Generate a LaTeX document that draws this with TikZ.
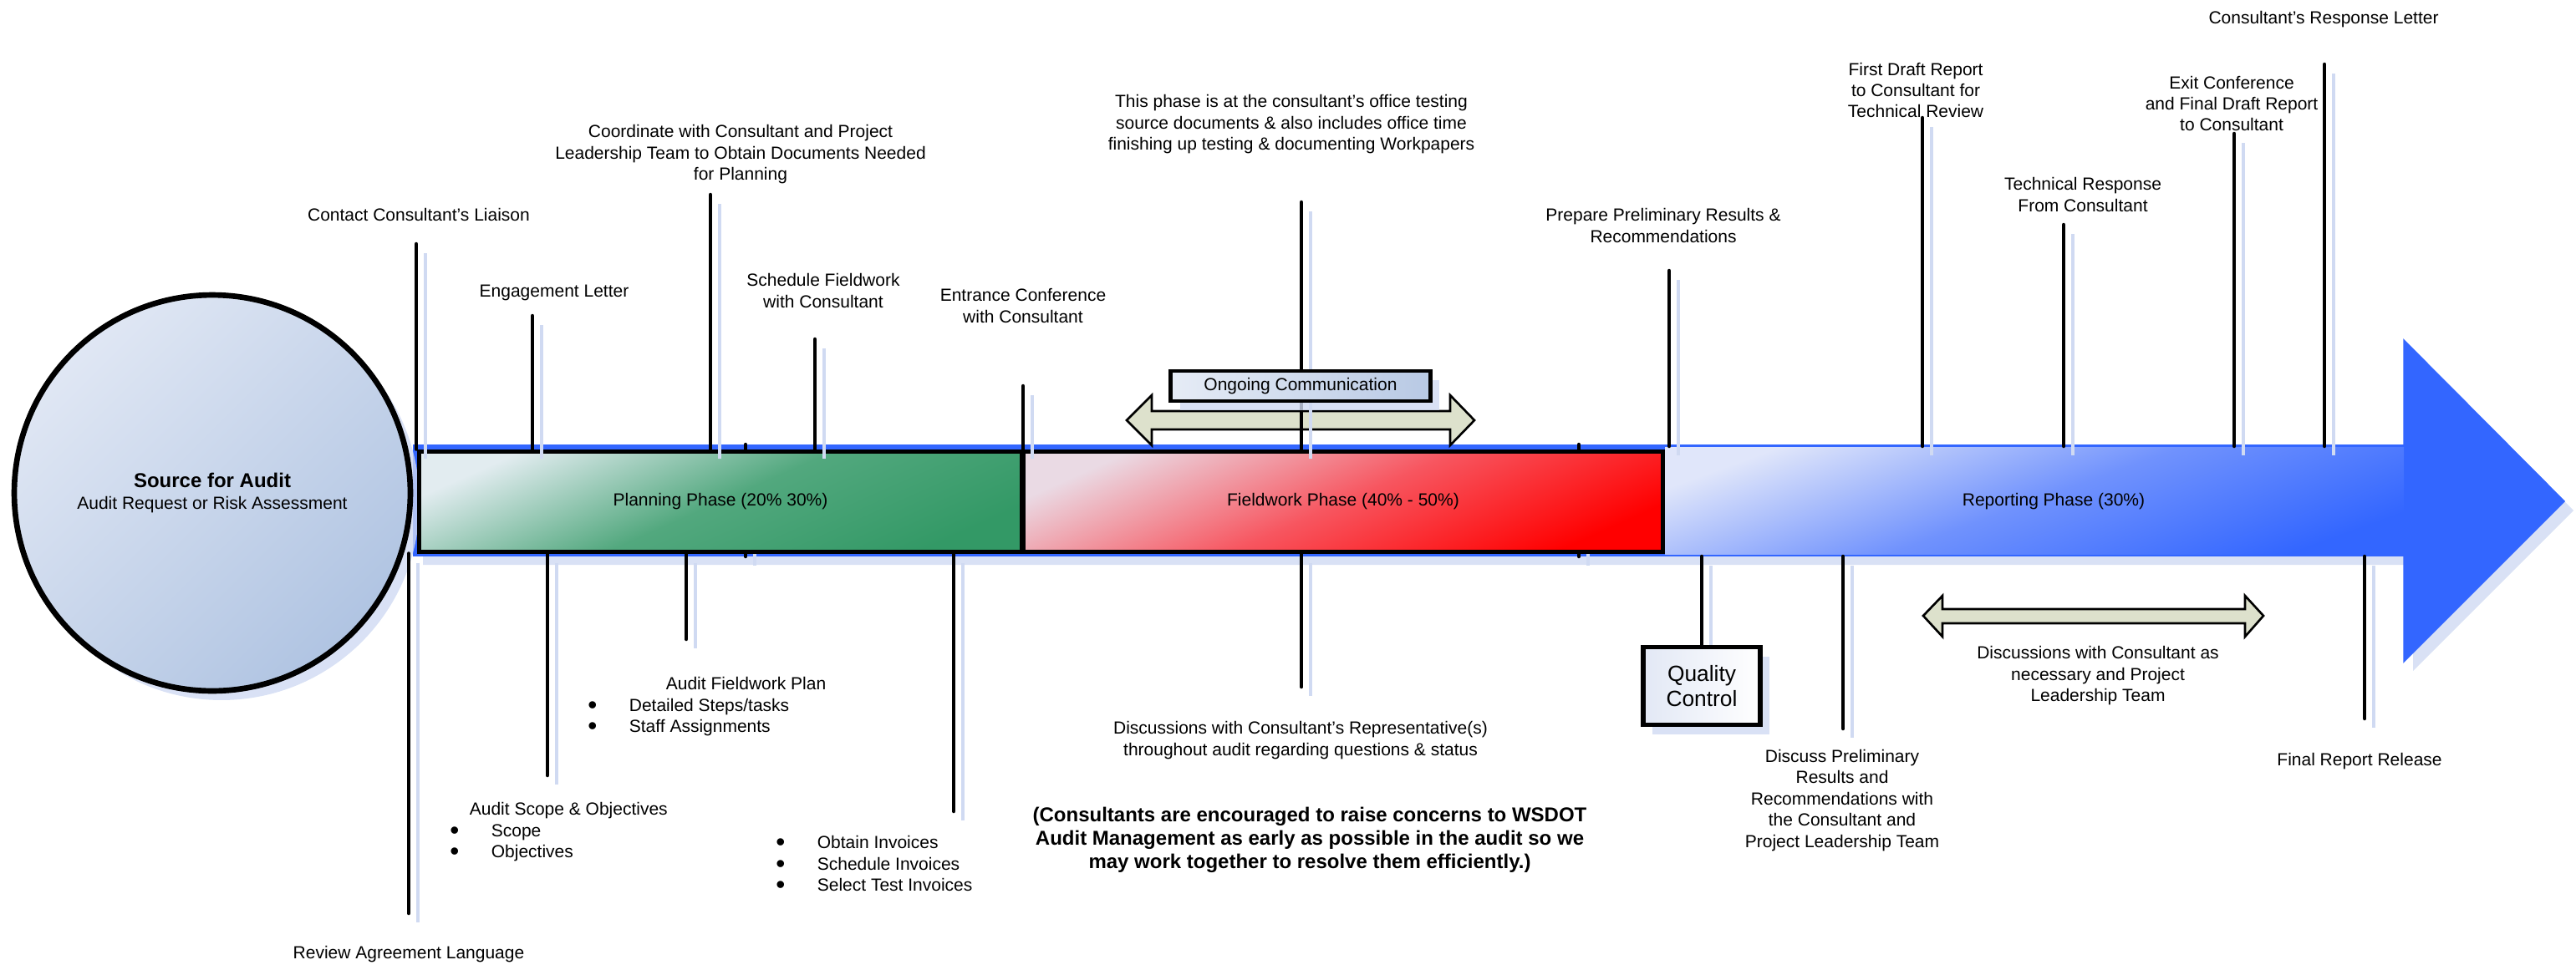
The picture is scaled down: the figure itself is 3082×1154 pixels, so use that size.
\documentclass[tikz,border=0pt]{standalone}
\usepackage{fontspec}
\setmainfont{Liberation Sans}
\usetikzlibrary{positioning, shadows}

\definecolor{circlight}{RGB}{224,231,244}
\definecolor{circdark}{RGB}{176,196,226}
\definecolor{greenlight}{RGB}{226,236,240}
\definecolor{greenmid}{RGB}{82,168,126}
\definecolor{greendark}{RGB}{51,153,102}
\definecolor{redlight}{RGB}{234,218,228}
\definecolor{redmid}{RGB}{247,86,96}
\definecolor{reddark}{RGB}{255,0,0}
\definecolor{bluelight}{RGB}{224,230,250}
\definecolor{bluemid}{RGB}{112,146,253}
\definecolor{bluedark}{RGB}{51,102,255}
\definecolor{commlight}{RGB}{230,236,246}
\definecolor{commdark}{RGB}{184,201,228}
\definecolor{commfill}{RGB}{221,225,204}
\definecolor{shadowblue}{RGB}{208,218,242}
\definecolor{qclight}{RGB}{226,232,245}

\newcommand{\eventfont}{\fontsize{11.95pt}{14.5pt}\selectfont}
\newcommand{\notefont}{\fontsize{13.66pt}{15.9pt}\selectfont\bfseries}
\newcommand{\qcfont}{\fontsize{15pt}{17pt}\selectfont}
\newcommand{\dotitem}{\raisebox{-0.14em}{\scalebox{1.5}{\textbullet}}\hspace{0.77cm}}

\tikzstyle{softshadow} = [drop shadow={shadow xshift=0.22cm, shadow yshift=-0.22cm, fill=shadowblue, opacity=0.8}]
\tikzstyle{source} = [circle, minimum size=9.48cm, inner sep=0pt, align=center, draw=black, line width=3.8pt, top color=circlight, bottom color=circdark, shading angle=45, softshadow, font=\eventfont]
\tikzstyle{phase} = [rectangle, minimum height=2.4cm, inner sep=0pt, draw=black, line width=2.85pt, font=\eventfont]
\tikzstyle{planning} = [phase, minimum width=14.44cm, top color=greenlight, bottom color=greendark, middle color=greenmid, shading angle=24]
\tikzstyle{fieldwork} = [phase, minimum width=15.32cm, top color=redlight, bottom color=reddark, middle color=redmid, shading angle=24]
\tikzstyle{reporting} = [fill=bluedark, draw=bluedark, line width=0.9pt, softshadow]
\tikzstyle{tick} = [line width=2.56pt, line cap=round, preaction={draw=shadowblue, line width=1.8pt, transform canvas={shift={(11,11)}}}]
\tikzstyle{twoway} = [draw=black, line width=1.5pt, fill=commfill, line join=miter]
\tikzstyle{comm} = [rectangle, minimum width=6.22cm, minimum height=0.72cm, inner sep=0pt, draw=black, line width=2.6pt, left color=commlight, right color=commdark, softshadow, font=\eventfont]
\tikzstyle{qcbox} = [rectangle, minimum width=2.8cm, minimum height=1.86cm, inner sep=0pt, draw=black, line width=3pt, left color=qclight, right color=white, softshadow, align=center, font=\qcfont]
\tikzstyle{event} = [align=center, inner sep=0pt, font=\eventfont]
\tikzstyle{bullets} = [align=left, inner sep=0pt, anchor=west, font=\eventfont]

\begin{document}
\begin{tikzpicture}[x=0.02cm, y=-0.02cm]
    \useasboundingbox (0,0) rectangle (3082,1154);

    % the long arrow runs behind the two phase boxes
    \path [reporting] (495,533) -- (2876,533) -- (2876,407) -- (3068,600) -- (2876,792) -- (2876,665) -- (495,665) -- cycle;
    \shade [top color=bluelight, bottom color=bluedark, middle color=bluemid, shading angle=20] (1992,535) rectangle (2876,663);

    \coordinate (shafttop) at (2000,534);
    \coordinate (shaftbot) at (2000,666);
    \coordinate (nubA) at (892,532);
    \coordinate (nubB) at (1889,532);
    \draw [tick] (nubA) -- (nubA |- shaftbot);
    \draw [tick] (nubB) -- (nubB |- shaftbot);

    \node (source) [source] at (254,590) {{\fontsize{13.66pt}{15pt}\selectfont\bfseries Source for Audit}\\Audit Request or Risk Assessment};
    \node (plan) [planning] at (862,600) {Planning Phase (20\% 30\%)};
    \node (field) [fieldwork] at (1607,600) {Fieldwork Phase (40\% - 50\%)};
    \node (report) [event] at (2457,600) {Reporting Phase (30\%)};

    \path [twoway] (1348,503) -- (1378,473) -- (1378,492) -- (1735,492) -- (1735,473) -- (1764,503) -- (1735,533) -- (1735,514) -- (1378,514) -- (1378,533) -- cycle;
    \path [twoway] (2301,737) -- (2324,713) -- (2324,729) -- (2686,729) -- (2686,713) -- (2708,737) -- (2686,762) -- (2686,746) -- (2324,746) -- (2324,762) -- cycle;

    % free ends of the event lines
    \coordinate (liaison) at (498,292);
    \coordinate (engage) at (637,378);
    \coordinate (coord) at (850,233);
    \coordinate (sched) at (975,406);
    \coordinate (entrance) at (1224,462);
    \coordinate (phasenote) at (1557,242);
    \coordinate (prepare) at (1997,324);
    \coordinate (firstdraft) at (2300,141);
    \coordinate (techresp) at (2469,269);
    \coordinate (exitconf) at (2673,160);
    \coordinate (response) at (2781,77);
    \coordinate (review) at (489,1093);
    \coordinate (scope) at (655,928);
    \coordinate (fwplan) at (821,765);
    \coordinate (invoices) at (1141,971);
    \coordinate (discuss) at (1557,822);
    \coordinate (qctop) at (2036,772);
    \coordinate (prelim) at (2205,872);
    \coordinate (release) at (2829,860);

    \draw [tick] (liaison) -- (liaison |- plan.north);
    \draw [tick] (engage) -- (engage |- plan.north);
    \draw [tick] (coord) -- (coord |- plan.north);
    \draw [tick] (sched) -- (sched |- plan.north);
    \draw [tick] (entrance) -- (entrance |- plan.north);
    \draw [tick] (phasenote) -- (phasenote |- field.north);
    \draw [tick] (prepare) -- (prepare |- shafttop);
    \draw [tick] (firstdraft) -- (firstdraft |- shafttop);
    \draw [tick] (techresp) -- (techresp |- shafttop);
    \draw [tick] (exitconf) -- (exitconf |- shafttop);
    \draw [tick] (response) -- (response |- shafttop);

    \draw [tick] (review |- plan.south) -- (review);
    \draw [tick] (scope |- plan.south) -- (scope);
    \draw [tick] (fwplan |- plan.south) -- (fwplan);
    \draw [tick] (invoices |- plan.south) -- (invoices);
    \draw [tick] (discuss |- field.south) -- (discuss);
    \draw [tick] (qctop |- shaftbot) -- (qctop);
    \draw [tick] (prelim |- shaftbot) -- (prelim);
    \draw [tick] (release |- shaftbot) -- (release);

    \node (comm) [comm] at (1556,462) {Ongoing Communication};
    \node (qc) [qcbox, below=0pt of qctop] {Quality\\Control};

    \node (lblLiaison) [event] at (501,257) {Contact Consultant's Liaison};
    \node (lblEngage) [event] at (663,350) {Engagement Letter};
    \node (lblCoord) [event] at (886,185) {Coordinate with Consultant and Project\\Leadership Team to Obtain Documents Needed\\for Planning};
    \node (lblSched) [event] at (985,348) {Schedule Fieldwork\\with Consultant};
    \node (lblEntrance) [event] at (1224,366) {Entrance Conference\\with Consultant};
    \node (lblPhase) [event] at (1545,149) {This phase is at the consultant's office testing\\source documents \& also includes office time\\finishing up testing \& documenting Workpapers};
    \node (lblPrepare) [event] at (1990,270) {Prepare Preliminary Results \&\\Recommendations};
    \node (lblFirst) [event] at (2292,108) {First Draft Report\\to Consultant for\\Technical Review};
    \node (lblTech) [event] at (2492,233) {Technical Response\\From Consultant};
    \node (lblExit) [event] at (2670,124) {Exit Conference\\and Final Draft Report\\to Consultant};
    \node (lblResponse) [event] at (2780,23) {Consultant's Response Letter};

    \node (lblReview) [event] at (489,1142) {Review Agreement Language};
    \node (lblScope) [bullets] at (538,996) {\hspace*{0.47cm}Audit Scope \& Objectives\\\dotitem Scope\\\dotitem Objectives};
    \node (lblFwPlan) [bullets] at (703,846) {\hspace*{1.87cm}Audit Fieldwork Plan\\\dotitem Detailed Steps/tasks\\\dotitem Staff Assignments};
    \node (lblInvoices) [bullets] at (928,1035) {\dotitem Obtain Invoices\\\dotitem Schedule Invoices\\\dotitem Select Test Invoices};
    \node (lblDiscuss) [event] at (1556,886) {Discussions with Consultant's Representative(s)\\throughout audit regarding questions \& status};
    \node (lblNote) [event, font=\notefont] at (1567,1005) {(Consultants are encouraged to raise concerns to WSDOT\\Audit Management as early as possible in the audit so we\\may work together to resolve them efficiently.)};
    \node (lblPrelim) [event] at (2204,958) {Discuss Preliminary\\Results and\\Recommendations with\\the Consultant and\\Project Leadership Team};
    \node (lblDiscCons) [event] at (2510,809) {Discussions with Consultant as\\necessary and Project\\Leadership Team};
    \node (lblFinal) [event] at (2823,911) {Final Report Release};
\end{tikzpicture}
\end{document}
